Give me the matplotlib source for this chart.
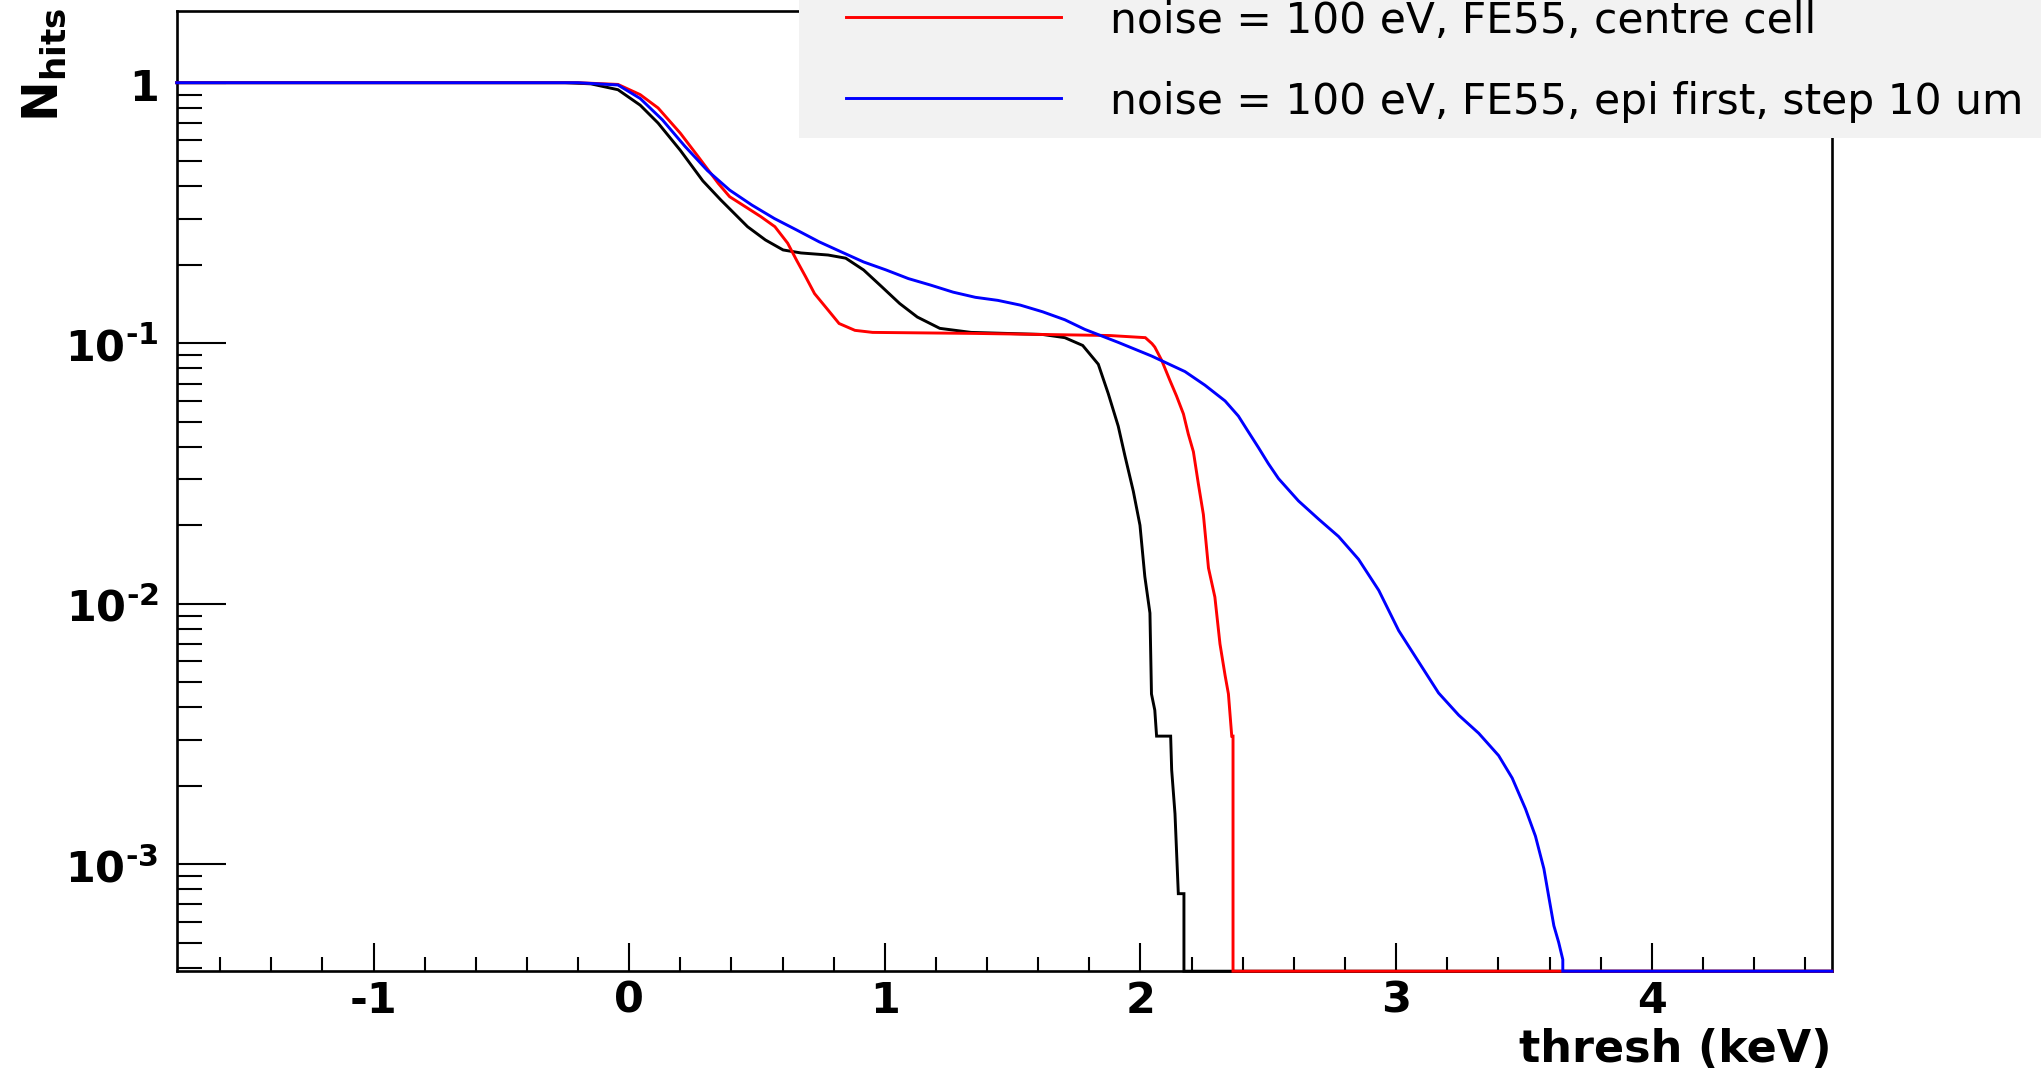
import matplotlib
matplotlib.use("Agg")
import matplotlib.pyplot as plt
import matplotlib.transforms as mtransforms
import numpy as np
from matplotlib.ticker import FixedLocator, FixedFormatter, MultipleLocator, LogLocator, NullFormatter
from matplotlib.patches import Rectangle
from matplotlib.lines import Line2D

plt.rcParams['font.family'] = ['DejaVu Sans']
plt.rcParams['mathtext.fontset'] = 'custom'
plt.rcParams['mathtext.bf'] = 'DejaVu Sans:bold'
plt.rcParams['mathtext.rm'] = 'DejaVu Sans:bold'
plt.rcParams['mathtext.default'] = 'bf'

# axis ranges (keV, fraction of hits)
X_MIN, X_MAX = -1.77, 4.705
Y_MIN, Y_MAX = 3.88e-4, 1.89

x_ticks = [-1, 0, 1, 2, 3, 4]
x_tick_labels = ["-1", "0", "1", "2", "3", "4"]
y_ticks = [1e-3, 1e-2, 1e-1, 1]
y_tick_labels = [r"$10^{\text{-}3}$", r"$10^{\text{-}2}$", r"$10^{\text{-}1}$", "1"]

# black: (no legend entry visible)
black_x = [-1.77, -0.25, -0.15, -0.044, 0.043, 0.113, 0.20, 0.288, 0.358, 0.463, 0.533,
           0.602, 0.672, 0.778, 0.847, 0.917, 0.987, 1.058, 1.127, 1.215, 1.337, 1.617,
           1.704, 1.774, 1.835, 1.874, 1.913, 1.939, 1.972, 1.998, 2.017, 2.037, 2.043,
           2.056, 2.063, 2.118, 2.122, 2.135, 2.148, 2.17, 2.17, 4.705]
black_y = [1, 1, 0.99, 0.94, 0.82, 0.70, 0.55, 0.42, 0.355, 0.28, 0.249,
           0.228, 0.222, 0.218, 0.212, 0.191, 0.165, 0.142, 0.126, 0.114, 0.11, 0.108,
           0.105, 0.098, 0.083, 0.064, 0.048, 0.037, 0.027, 0.020, 0.0127, 0.0092, 0.0045,
           0.0039, 0.0031, 0.0031, 0.0023, 0.00156, 0.00077, 0.00077, 0, 0]

# red: noise = 100 eV, FE55, centre cell
red_x = [-1.77, -0.2, -0.044, 0.043, 0.113, 0.20, 0.27, 0.349, 0.393, 0.463, 0.515,
         0.57, 0.62, 0.655, 0.69, 0.725, 0.778, 0.821, 0.883, 0.952, 1.354, 1.617, 1.879,
         2.019, 2.045, 2.056, 2.083, 2.115, 2.141, 2.168, 2.187, 2.207, 2.226, 2.246,
         2.266, 2.291, 2.311, 2.331, 2.344, 2.357, 2.362, 2.362, 4.705]
red_y = [1, 1, 0.985, 0.90, 0.80, 0.64, 0.52, 0.41, 0.365, 0.33, 0.306,
         0.28, 0.242, 0.208, 0.18, 0.155, 0.134, 0.119, 0.112, 0.110, 0.109, 0.108, 0.107,
         0.105, 0.0996, 0.0966, 0.0859, 0.072, 0.0627, 0.0535, 0.0448, 0.0383, 0.029, 0.022,
         0.0137, 0.0106, 0.007, 0.0053, 0.0045, 0.0031, 0.0031, 0, 0]

# blue: noise = 100 eV, FE55, epi first, step 10 um
blue_x = [-1.77, -0.2, -0.044, 0.043, 0.13, 0.218, 0.306, 0.393, 0.48, 0.568, 0.655,
          0.743, 0.83, 0.917, 1.005, 1.092, 1.18, 1.267, 1.354, 1.442, 1.53, 1.617, 1.704,
          1.782, 1.913, 2.043, 2.174, 2.252, 2.331, 2.383, 2.42, 2.461, 2.50, 2.54, 2.618, 2.697,
          2.775, 2.853, 2.932, 3.01, 3.088, 3.166, 3.245, 3.323, 3.401, 3.454, 3.506,
          3.545, 3.578, 3.597, 3.617, 3.636, 3.652, 3.652, 4.705]
blue_y = [1, 1, 0.98, 0.87, 0.72, 0.57, 0.46, 0.387, 0.339, 0.301, 0.272,
          0.245, 0.224, 0.205, 0.191, 0.177, 0.167, 0.157, 0.150, 0.146, 0.140, 0.132, 0.123,
          0.113, 0.1007, 0.0893, 0.0778, 0.069, 0.060, 0.0525, 0.046, 0.0398, 0.0345, 0.0302, 0.0248, 0.0211,
          0.0181, 0.0148, 0.01125, 0.00788, 0.00598, 0.00454, 0.00373, 0.00318, 0.00261, 0.00214, 0.00163,
          0.00128, 0.00096, 0.00075, 0.00058, 0.0005, 0.00043, 0, 0]

labels = ["noise = 100 eV, FE55, centre cell",
          "noise = 100 eV, FE55, epi first, step 10 um"]

W, H = 2041, 1072
fig = plt.figure(figsize=(W / 100, H / 100), dpi=100)
ax = fig.add_axes([176.7 / W, 1 - 971.2 / H, (1832 - 176.7) / W, (971.2 - 10.7) / H])

lw = 2.1
for xs, ys, c in [(black_x, black_y, 'black'), (red_x, red_y, '#ff0000'), (blue_x, blue_y, '#0000ff')]:
    # empty bins sit on the frame floor, as in the original log plot
    ax.plot(xs, np.maximum(ys, Y_MIN), color=c, lw=lw, zorder=3, clip_on=False,
            solid_joinstyle='miter')

ax.set_yscale('log')
ax.set_xlim(X_MIN, X_MAX)
ax.set_ylim(Y_MIN, Y_MAX)

ax.xaxis.set_major_locator(FixedLocator(x_ticks))
ax.xaxis.set_major_formatter(FixedFormatter(x_tick_labels))
ax.xaxis.set_minor_locator(MultipleLocator(0.2))
ax.yaxis.set_major_locator(FixedLocator(y_ticks))
ax.yaxis.set_major_formatter(FixedFormatter(y_tick_labels))
ax.yaxis.set_minor_locator(LogLocator(base=10, subs=range(2, 10)))
ax.yaxis.set_minor_formatter(NullFormatter())

for s in ax.spines.values():
    s.set_linewidth(1.9)
ax.tick_params(axis='both', which='both', direction='in', width=1.5, top=False, right=False)
ax.tick_params(axis='x', which='major', length=20, pad=6, labelsize=31)
ax.tick_params(axis='x', which='minor', length=10)
ax.tick_params(axis='y', which='major', length=35, pad=13, labelsize=31)
ax.tick_params(axis='y', which='minor', length=18)
for t in ax.get_xticklabels():
    t.set_fontweight('bold')
shift = mtransforms.ScaledTranslation(0, -6 / 100, fig.dpi_scale_trans)
for tick in ax.yaxis.get_major_ticks():
    tick.label1.set_fontweight('bold')
    tick.label1.set_va('center')
    tick.label1.set_transform(tick.label1.get_transform() + shift)

fig.text(1832 / W, 1 - 1061.7 / H, "thresh (keV)", ha='right', va='baseline',
         fontsize=32, fontweight='bold')
fig.text(44 / W, 1 - 8 / H, r"$N_{hits}$", rotation=90, ha='center', va='top', fontsize=35)

# legend box (runs past the top and right edge of the canvas)
fig.add_artist(Rectangle((799 / W, 1 - 138 / H), 1 - 799 / W, 138 / H + 0.01,
                         transform=fig.transFigure, facecolor='#f2f2f2', edgecolor='none', zorder=5))
for ypix, c, lab in [(16.7, '#ff0000', labels[0]), (98.3, '#0000ff', labels[1])]:
    yf = 1 - ypix / H
    fig.add_artist(Line2D([846 / W, 1061 / W], [yf, yf], transform=fig.transFigure,
                          color=c, lw=lw, zorder=6))
    fig.text(1110 / W, 1 - (ypix + 16) / H, lab, ha='left', va='baseline', fontsize=30.5, zorder=7)

fig.savefig("out.png", dpi=100)
